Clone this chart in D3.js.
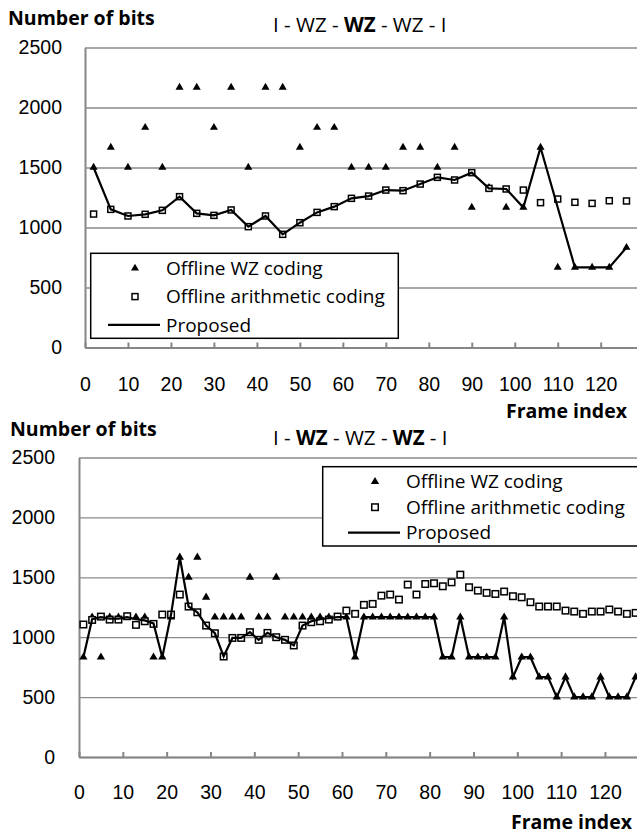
<!DOCTYPE html>
<html>
<head>
<meta charset="utf-8">
<script src="https://cdn.jsdelivr.net/npm/d3@7"></script>
<style>
  body { margin: 0; background: #fff; }
  svg { display: block; font-family: "Open Sans", sans-serif; }
  .tick text { font-size: 19.5px; fill: #000; }
  .grid line { stroke: #8a8a8a; stroke-width: 1.3; }
  .grid .domain { stroke: #868686; stroke-width: 2; }
  .xaxis .domain, .xaxis line { stroke: #868686; stroke-width: 2; }
  .bold-label { font-weight: bold; font-size: 19.5px; }
  .legend text { font-size: 19px; }
</style>
</head>
<body>
<svg id="chart" width="637" height="837"></svg>
<script>
// ---- top chart: I - WZ - WZ - WZ - I ----
const framesTop = [2, 6, 10, 14, 18, 22, 26, 30, 34, 38, 42, 46, 50, 54, 58, 62,
  66, 70, 74, 78, 82, 86, 90, 94, 98, 102, 106, 110, 114, 118, 122, 126];
const wzTop = [1500, 1667, 1500, 1833, 1500, 2167, 2167, 1833, 2167, 1500, 2167, 2167, 1667, 1833, 1833, 1500,
  1500, 1500, 1667, 1667, 1500, 1667, 1167, 1333, 1167, 1167, 1667, 667, 667, 667, 667, 833];
const arithTop = [1112, 1151, 1096, 1110, 1143, 1257, 1118, 1101, 1146, 1007, 1096, 943, 1040, 1126, 1174, 1243,
  1262, 1312, 1307, 1362, 1418, 1396, 1457, 1326, 1321, 1312, 1207, 1237, 1210, 1201, 1223, 1221];
const proposedTop = [1500, 1151, 1096, 1110, 1143, 1257, 1118, 1101, 1146, 1007, 1096, 943, 1040, 1126, 1174, 1243,
  1262, 1312, 1307, 1362, 1418, 1396, 1457, 1326, 1321, 1167, 1667, 1167, 667, 667, 667, 833];

// ---- bottom chart: I - WZ - WZ - WZ - I ----
const framesBottom = [1, 3, 5, 7, 9, 11, 13, 15, 17, 19, 21, 23, 25, 27, 29, 31,
  33, 35, 37, 39, 41, 43, 45, 47, 49, 51, 53, 55, 57, 59, 61, 63,
  65, 67, 69, 71, 73, 75, 77, 79, 81, 83, 85, 87, 89, 91, 93, 95,
  97, 99, 101, 103, 105, 107, 109, 111, 113, 115, 117, 119, 121, 123, 125, 127];
const wzBottom = [833, 1167, 833, 1167, 1167, 1167, 1167, 1167, 833, 833, 1167, 1667, 1500, 1667, 1333, 1167,
  1167, 1167, 1167, 1500, 1167, 1167, 1500, 1167, 1167, 1167, 1167, 1167, 1167, 1167, 1167, 833,
  1167, 1167, 1167, 1167, 1167, 1167, 1167, 1167, 1167, 833, 833, 1167, 833, 833, 833, 833,
  1167, 667, 833, 833, 667, 667, 500, 667, 500, 500, 500, 667, 500, 500, 500, 667];
const arithBottom = [1106, 1144, 1172, 1147, 1147, 1175, 1103, 1133, 1111, 1189, 1189, 1356, 1256, 1208, 1097, 1033,
  839, 994, 994, 1042, 978, 1036, 1000, 978, 931, 1097, 1125, 1133, 1147, 1172, 1222, 1195,
  1270, 1278, 1347, 1356, 1314, 1439, 1356, 1444, 1450, 1425, 1458, 1522, 1417, 1389, 1370, 1361,
  1381, 1342, 1333, 1292, 1256, 1256, 1256, 1222, 1214, 1195, 1214, 1214, 1231, 1214, 1195, 1203];
const proposedBottom = [833, 1150, 1167, 1155, 1155, 1167, 1150, 1140, 1115, 833, 1189, 1667, 1256, 1208, 1097, 1033,
  839, 994, 994, 1042, 978, 1036, 1000, 978, 931, 1097, 1133, 1150, 1160, 1167, 1167, 833,
  1167, 1167, 1167, 1167, 1167, 1167, 1167, 1167, 1167, 833, 833, 1167, 833, 833, 833, 833,
  1167, 667, 833, 833, 667, 667, 500, 667, 500, 500, 500, 667, 500, 500, 500, 667];

const yTicks = [0, 500, 1000, 1500, 2000, 2500];
const xTicks = [0, 10, 20, 30, 40, 50, 60, 70, 80, 90, 100, 110, 120];
const seriesNames = ['Offline WZ coding', 'Offline arithmetic coding', 'Proposed'];

const svg = d3.select('#chart');

function drawPanel(p) {
  const xScale = d3.scaleLinear().domain([0, 130]).range([p.left, p.left + 130 * p.xStep]);
  const yScale = d3.scaleLinear().domain([0, 2500]).range([p.bottom, p.top]);
  const g = svg.append('g');

  // gridlines + left axis line
  const yAxis = d3.axisLeft(yScale)
    .tickValues(yTicks)
    .tickSize(-(637 - p.left + 20))
    .tickSizeOuter(0)
    .tickPadding(p.yPad)
    .tickFormat(d3.format('d'));
  g.append('g')
    .attr('class', 'grid')
    .attr('transform', `translate(${p.left},0)`)
    .call(yAxis);

  // x axis with inward ticks
  const xAxis = d3.axisBottom(xScale)
    .tickValues(xTicks)
    .tickSize(-5)
    .tickSizeOuter(0)
    .tickPadding(p.xPad)
    .tickFormat(d3.format('d'));
  g.append('g')
    .attr('class', 'xaxis')
    .attr('transform', `translate(0,${p.bottom})`)
    .call(xAxis);

  const rows = p.frames.map((f, i) => ({ f, wz: p.wz[i], ar: p.arith[i], pr: p.proposed[i] }));

  // triangles
  const tri = d3.symbol().type(d3.symbolTriangle).size(p.triSize);
  g.selectAll('.wz').data(rows).enter().append('path')
    .attr('class', 'wz')
    .attr('d', tri)
    .attr('fill', '#000')
    .attr('transform', d => `translate(${xScale(d.f)},${yScale(d.wz)})`);

  // squares
  g.selectAll('.ar').data(rows).enter().append('rect')
    .attr('class', 'ar')
    .attr('x', d => xScale(d.f) - p.sq / 2)
    .attr('y', d => yScale(d.ar) - p.sq / 2)
    .attr('width', p.sq)
    .attr('height', p.sq)
    .attr('fill', '#fff')
    .attr('stroke', '#000')
    .attr('stroke-width', 1.5);

  // proposed line
  const line = d3.line()
    .x(d => xScale(d.f))
    .y(d => yScale(d.pr));
  g.append('path')
    .datum(rows)
    .attr('fill', 'none')
    .attr('stroke', '#000')
    .attr('stroke-width', 2.2)
    .attr('stroke-linejoin', 'miter')
    .attr('d', line);

  // labels
  g.append('text').attr('class', 'bold-label')
    .attr('x', p.ylabX).attr('y', p.ylabY)
    .text('Number of bits');
  g.append('text').attr('class', 'bold-label')
    .attr('x', p.xlabX).attr('y', p.xlabY)
    .attr('text-anchor', 'end')
    .text('Frame index');

  const title = g.append('text')
    .attr('x', 273).attr('y', p.titleY)
    .style('font-size', '20.5px');
  p.title.forEach(t => {
    title.append('tspan')
      .style('font-weight', t.bold ? 'bold' : 'normal')
      .text(t.s);
  });

  // legend
  const lg = g.append('g').attr('class', 'legend');
  lg.append('rect')
    .attr('x', p.lg.x).attr('y', p.lg.y)
    .attr('width', p.lg.w).attr('height', p.lg.h)
    .attr('fill', '#fff').attr('stroke', '#000').attr('stroke-width', 1.5);
  seriesNames.forEach((name, i) => {
    const cy = p.lg.y0 + i * p.lg.dy;
    if (i === 0) {
      lg.append('path').attr('d', tri)
        .attr('transform', `translate(${p.lg.mx},${cy})`);
    } else if (i === 1) {
      lg.append('rect')
        .attr('x', p.lg.mx - p.sq / 2).attr('y', cy - p.sq / 2)
        .attr('width', p.sq).attr('height', p.sq)
        .attr('fill', '#fff').attr('stroke', '#000').attr('stroke-width', 1.5);
    } else {
      lg.append('line')
        .attr('x1', p.lg.mx - 27).attr('x2', p.lg.mx + 25)
        .attr('y1', cy).attr('y2', cy)
        .attr('stroke', '#000').attr('stroke-width', 2.2);
    }
    lg.append('text')
      .attr('x', p.lg.tx).attr('y', cy)
      .attr('dy', '0.35em')
      .text(name);
  });
}

drawPanel({
  frames: framesTop, wz: wzTop, arith: arithTop, proposed: proposedTop,
  left: 85, xStep: 4.2975, top: 47.5, bottom: 347.5,
  yPad: 23, xPad: 30, triSize: 28, sq: 6,
  ylabX: 8, ylabY: 25, xlabX: 627, xlabY: 418, titleY: 32,
  title: [{ s: 'I - WZ - ' }, { s: 'WZ', bold: true }, { s: ' - WZ - I' }],
  lg: { x: 90.7, y: 253.3, w: 307.6, h: 85, y0: 268.3, dy: 28.3, mx: 135, tx: 166 }
});

drawPanel({
  frames: framesBottom, wz: wzBottom, arith: arithBottom, proposed: proposedBottom,
  left: 79, xStep: 4.383, top: 457.5, bottom: 757,
  yPad: 24, xPad: 28, triSize: 30, sq: 6.5,
  ylabX: 10, ylabY: 436, xlabX: 632, xlabY: 829, titleY: 445,
  title: [{ s: 'I - ' }, { s: 'WZ', bold: true }, { s: ' - WZ - ' }, { s: 'WZ', bold: true }, { s: ' - I' }],
  lg: { x: 322.7, y: 466.7, w: 340, h: 79.3, y0: 481.7, dy: 25.5, mx: 375, tx: 406 }
});
</script>
</body>
</html>
